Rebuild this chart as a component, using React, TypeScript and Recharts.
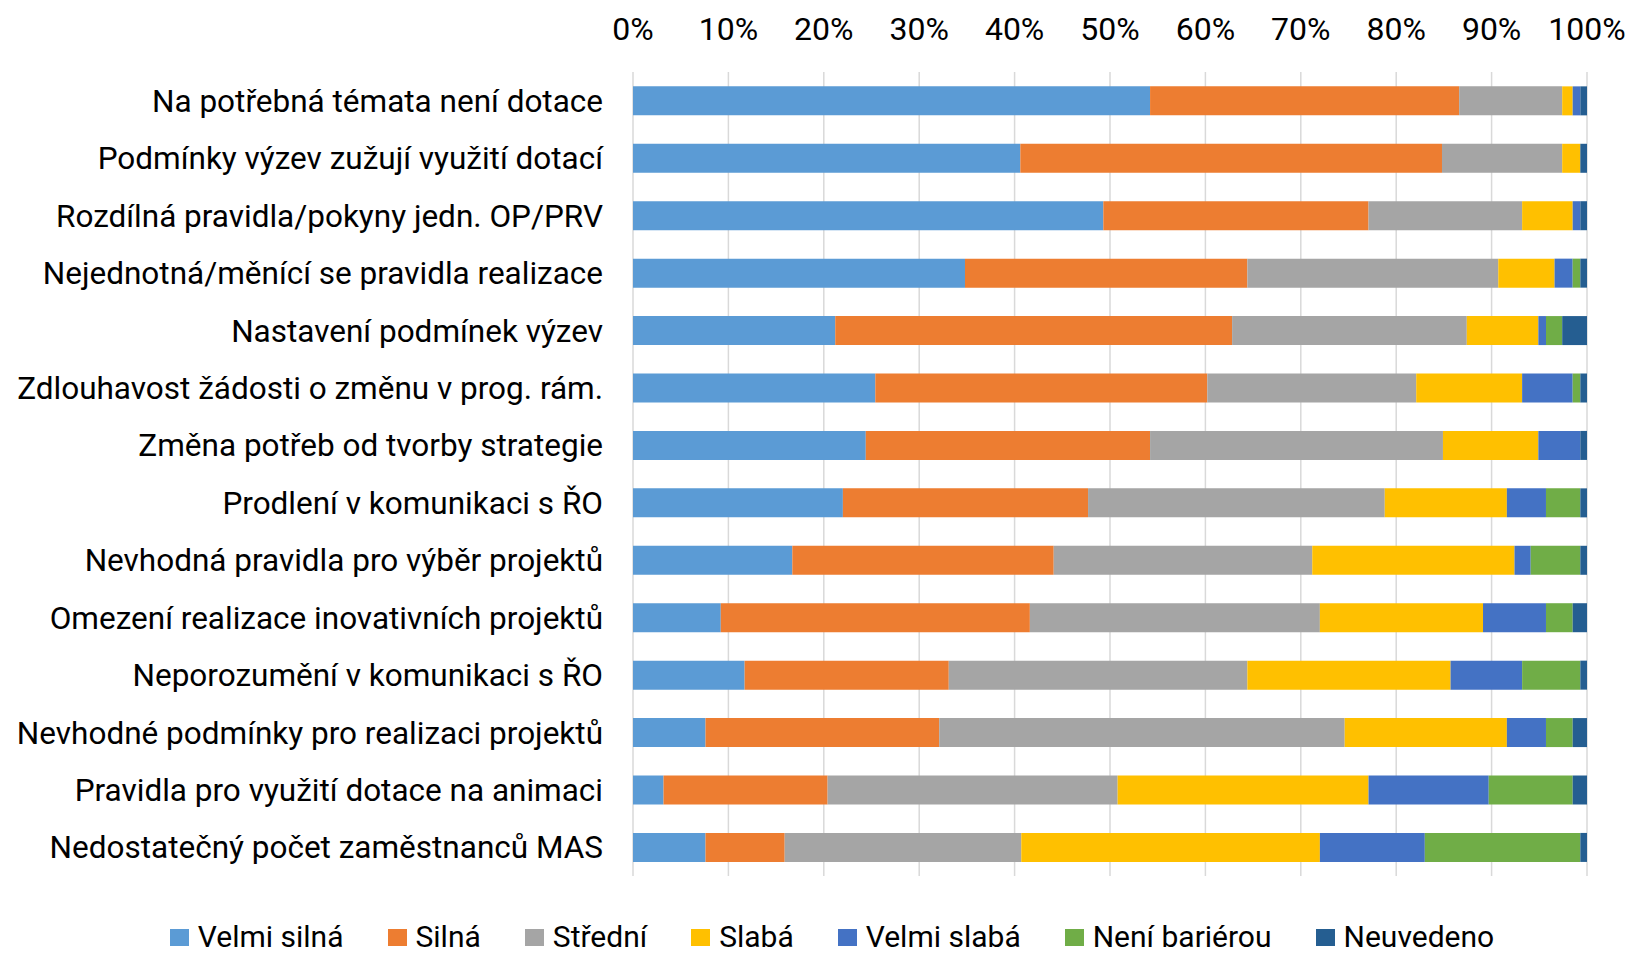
import { BarChart, Bar, XAxis, YAxis, CartesianGrid, Legend } from 'recharts'

const categories = [
  'Na potřebná témata není dotace',
  'Podmínky výzev zužují využití dotací',
  'Rozdílná pravidla/pokyny jedn. OP/PRV',
  'Nejednotná/měnící se pravidla realizace',
  'Nastavení podmínek výzev',
  'Zdlouhavost žádosti o změnu v prog. rám.',
  'Změna potřeb od tvorby strategie',
  'Prodlení v komunikaci s ŘO',
  'Nevhodná pravidla pro výběr projektů',
  'Omezení realizace inovativních projektů',
  'Neporozumění v komunikaci s ŘO',
  'Nevhodné podmínky pro realizaci projektů',
  'Pravidla pro využití dotace na animaci',
  'Nedostatečný počet zaměstnanců MAS',
]

const velmiSilna = [54.2, 40.6, 49.3, 34.8, 21.2, 25.4, 24.4, 22.0, 16.7, 9.2, 11.7, 7.6, 3.2, 7.6]
const silna = [32.4, 44.2, 27.8, 29.6, 41.6, 34.8, 29.8, 25.7, 27.4, 32.4, 21.4, 24.5, 17.2, 8.3]
const stredni = [10.8, 12.6, 16.1, 26.3, 24.6, 21.9, 30.7, 31.1, 27.1, 30.4, 31.3, 42.5, 30.4, 24.8]
const slaba = [1.1, 1.9, 5.3, 5.9, 7.5, 11.1, 10.0, 12.8, 21.2, 17.1, 21.3, 17.0, 26.3, 31.3]
const velmiSlaba = [0.8, 0, 0.8, 1.9, 0.8, 5.3, 4.4, 4.1, 1.7, 6.6, 7.5, 4.1, 12.6, 11.0]
const neniBarierou = [0, 0, 0, 0.8, 1.7, 0.8, 0, 3.6, 5.2, 2.8, 6.1, 2.8, 8.8, 16.3]
const neuvedeno = [0.7, 0.7, 0.7, 0.7, 2.6, 0.7, 0.7, 0.7, 0.7, 1.5, 0.7, 1.5, 1.5, 0.7]

const xTicks = [0, 0.1, 0.2, 0.3, 0.4, 0.5, 0.6, 0.7, 0.8, 0.9, 1]

const series = [
  { key: 'vs', name: 'Velmi silná', values: velmiSilna, color: '#5B9BD5' },
  { key: 's', name: 'Silná', values: silna, color: '#ED7D31' },
  { key: 'st', name: 'Střední', values: stredni, color: '#A5A5A5' },
  { key: 'sl', name: 'Slabá', values: slaba, color: '#FFC000' },
  { key: 'vsl', name: 'Velmi slabá', values: velmiSlaba, color: '#4472C4' },
  { key: 'nb', name: 'Není bariérou', values: neniBarierou, color: '#70AD47' },
  { key: 'nu', name: 'Neuvedeno', values: neuvedeno, color: '#255E91' },
]

const data = categories.map((name, i) => {
  const row: Record<string, string | number> = { name }
  series.forEach(s => { row[s.key] = s.values[i] })
  return row
})

const FONT = 'Roboto, "Noto Sans", sans-serif'

function renderLegend() {
  return (
    <div style={{
      display: 'flex', justifyContent: 'center', paddingLeft: 78,
      fontFamily: FONT, fontSize: 30, color: '#000', lineHeight: '34px',
    }}>
      {series.map(s => (
        <div key={s.key} style={{ display: 'flex', alignItems: 'center', marginRight: 44 }}>
          <span style={{ width: 19, height: 17, background: s.color, marginRight: 9, display: 'inline-block' }} />
          <span>{s.name}</span>
        </div>
      ))}
    </div>
  )
}

export default function App() {
  return (
    <div style={{ position: 'absolute', left: 0, top: 0, width: 1630, height: 955, overflow: 'hidden', background: '#fff' }}>
      <BarChart
        width={1630}
        height={955}
        data={data}
        layout="vertical"
        stackOffset="expand"
        margin={{ top: 0, right: 43, left: 0, bottom: 45 }}
        barCategoryGap="25%"
      >
        <CartesianGrid horizontal={false} stroke="#d9d9d9" strokeWidth={1.5} />
        <XAxis
          type="number"
          orientation="top"
          domain={[0, 1]}
          ticks={xTicks}
          tickFormatter={(v: number) => `${Math.round(v * 100)}%`}
          axisLine={false}
          tickLine={false}
          tickSize={0}
          tickMargin={32}
          height={72}
          interval={0}
          tick={{ fontSize: 32, fill: '#000', fontFamily: FONT }}
        />
        <YAxis
          type="category"
          dataKey="name"
          width={633}
          axisLine={false}
          tickLine={false}
          tickSize={0}
          tickMargin={30}
          interval={0}
          tick={{ fontSize: 31.5, fill: '#000', fontFamily: FONT }}
        />
        {series.map(s => (
          <Bar key={s.key} dataKey={s.key} name={s.name} stackId="a" fill={s.color} isAnimationActive={false} />
        ))}
        <Legend content={renderLegend} wrapperStyle={{ left: 0, top: 920, width: 1630 }} />
      </BarChart>
    </div>
  )
}
